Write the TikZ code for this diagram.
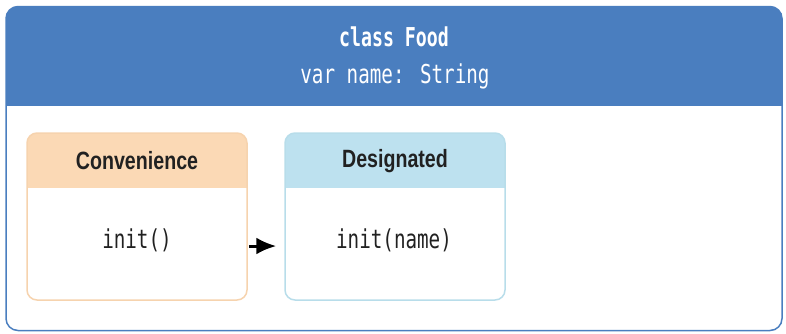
\documentclass[tikz,border=0pt]{standalone}
\usepackage{fontspec}
\setmainfont{Liberation Sans}
\newfontfamily\headfont[FakeStretch=0.785]{Liberation Sans}
\newfontfamily\codefont[FakeStretch=0.74]{DejaVu Sans Mono}
\newfontfamily\classfont[FakeStretch=0.70]{DejaVu Sans Mono}
\usetikzlibrary{positioning,arrows.meta}

\definecolor{foodblue}{RGB}{74,126,191}
\definecolor{convfill}{RGB}{251,217,181}
\definecolor{convline}{RGB}{246,211,174}
\definecolor{desigfill}{RGB}{189,225,239}
\definecolor{desigline}{RGB}{184,221,234}

\tikzset{
  initbox/.style={rounded corners=10pt,line width=1.5pt,minimum width=220pt,minimum height=167pt,inner sep=0pt},
  boxhead/.style={path picture={\fill[#1,sharp corners] (path picture bounding box.north west) rectangle ([yshift=-55pt]path picture bounding box.north east);}},
  headlabel/.style={font=\headfont\bfseries\fontsize{25}{25}\selectfont,text=black!87},
  codelabel/.style={font=\codefont\fontsize{26}{26}\selectfont,text=black!87}
}

\begin{document}
\begin{tikzpicture}[x=1pt,y=-1pt]
  \useasboundingbox (0,0) rectangle (786,333);
  % class
  \node (food) [draw=foodblue,line width=1.5pt,rounded corners=12pt,minimum width=776pt,minimum height=324pt,inner sep=0pt,
    path picture={\fill[foodblue,sharp corners] (path picture bounding box.north west) rectangle ([yshift=-99pt]path picture bounding box.north east);}] at (394,168.5) {};
  \node (classname) [font=\classfont\bfseries\fontsize{26}{26}\selectfont,text=white] at (394,37) {class Food};
  \node (prop) [font=\codefont\fontsize{26}{26}\selectfont,text=white] at (395,76) {var name: String};
  % initializers
  \node (conv) [initbox,draw=convline,boxhead=convfill] at (137,216.5) {};
  \node (desig) [initbox,draw=desigline,boxhead=desigfill] at (395,216.5) {};
  \node (convhead) [headlabel] at (137,161) {Convenience};
  \node (desighead) [headlabel] at (395,161) {Designated};
  \node (convinit) [codelabel] at (137,240) {init()};
  \node (desiginit) [codelabel] at (394,240) {init(name)};
  \path[-{Latex[length=20pt,width=17pt]},line width=3pt]
    ([xshift=1pt,yshift=-29.5pt]conv.east) edge ([xshift=-8pt,yshift=-29.5pt]desig.west);
\end{tikzpicture}
\end{document}
